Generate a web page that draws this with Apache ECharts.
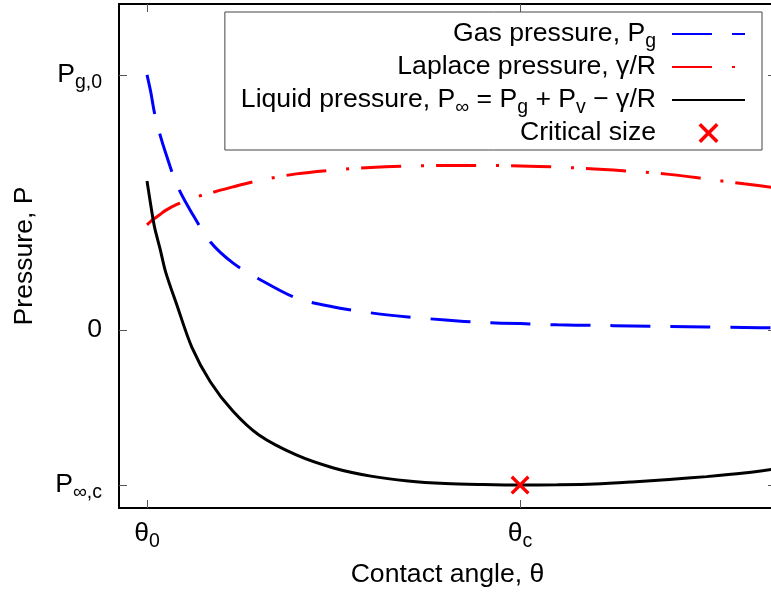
<!DOCTYPE html>
<html><head><meta charset="utf-8">
<script src="https://cdn.jsdelivr.net/npm/echarts@6/dist/echarts.min.js"></script>
<style>html,body{margin:0;padding:0;background:#fff}#c{width:771px;height:598px}</style>
</head><body><div id="c"></div>
<script>
// Contact angle (theta0 = 0, thetac = 1, arbitrary units)
const thetaValues = [0, 0.01, 0.02, 0.035, 0.05, 0.08, 0.12, 0.17, 0.23, 0.3, 0.4, 0.5, 0.6, 0.7, 0.8, 0.9, 1.0, 1.1, 1.2, 1.3, 1.4, 1.5, 1.6, 1.7];
// Pressure (0 = zero, 1 = Pg,0)
const gasPressure = [1.0, 0.933, 0.851, 0.765, 0.694, 0.569, 0.459, 0.345, 0.263, 0.200, 0.125, 0.090, 0.067, 0.051, 0.039, 0.029, 0.025, 0.020, 0.018, 0.016, 0.014, 0.012, 0.010, 0.008];
const laplacePressure = [0.412, 0.426, 0.437, 0.453, 0.469, 0.492, 0.516, 0.537, 0.561, 0.586, 0.612, 0.627, 0.637, 0.643, 0.645, 0.645, 0.643, 0.639, 0.631, 0.622, 0.610, 0.592, 0.573, 0.555];
const liquidPressure = [0.584, 0.490, 0.404, 0.318, 0.227, 0.098, -0.067, -0.204, -0.318, -0.412, -0.490, -0.541, -0.573, -0.592, -0.602, -0.606, -0.608, -0.607, -0.604, -0.596, -0.586, -0.575, -0.561, -0.541];
const criticalPoint = [[1.0, -0.608]];
const xTickValues = [0, 1];
const xTickLabels = ['θ{sub|0}', 'θ{sub|c}'];
const yTickValues = [-0.608, 0, 1];
const yTickLabels = ['P{sub|∞,c}', '0', 'P{sub|g,0}'];
const seriesNames = ['Gas pressure, Pg', 'Laplace pressure, γ/R', 'Liquid pressure, P∞ = Pg + Pv − γ/R', 'Critical size'];
const legendLabels = ['Gas pressure, P{sub|g}', 'Laplace pressure, γ/R', 'Liquid pressure, P{sub|∞} = P{sub|g} + P{sub|v} − γ/R', 'Critical size'];

const F = 'Liberation Sans, Arial, Helvetica, sans-serif';
const FS = 26.6;
const sub = {fontSize: 19.5, fontFamily: F, color: '#000', lineHeight: 16, padding: [16, 0, 0, 0]};
const zip = (ys) => thetaValues.map((x, i) => [x, ys[i]]);

const chart = echarts.init(document.getElementById('c'), null, {renderer: 'canvas'});
const tickStyle = {show: true, inside: true, length: 8, lineStyle: {color: '#555', width: 1}};
chart.setOption({
  animation: false,
  backgroundColor: '#fff',
  grid: {left: 119, top: 4, right: -5, bottom: 90, outerBoundsMode: 'none', containLabel: false},
  xAxis: [{
    type: 'value', min: -0.0751, max: 1.686, position: 'bottom',
    axisLine: {show: true, onZero: false, lineStyle: {color: '#000', width: 2}},
    axisTick: Object.assign({customValues: xTickValues}, tickStyle),
    axisLabel: {customValues: xTickValues, margin: 10, fontSize: FS, lineHeight: 32, fontFamily: F, color: '#000',
      formatter: v => xTickLabels[xTickValues.indexOf(v)] ?? '', rich: {sub}},
    splitLine: {show: false},
    name: 'Contact angle, θ', nameLocation: 'middle', nameGap: 51,
    nameTextStyle: {fontSize: FS, lineHeight: 32, fontFamily: F, color: '#000'}
  }, {
    type: 'value', min: -0.0751, max: 1.686, position: 'top',
    axisLine: {show: true, onZero: false, lineStyle: {color: '#000', width: 2}},
    axisTick: Object.assign({customValues: xTickValues}, tickStyle),
    axisLabel: {show: false}, splitLine: {show: false}
  }],
  yAxis: [{
    type: 'value', min: -0.698, max: 1.278, position: 'left',
    axisLine: {show: true, onZero: false, lineStyle: {color: '#000', width: 2}},
    axisTick: Object.assign({customValues: yTickValues}, tickStyle),
    axisLabel: {customValues: yTickValues, margin: 17, fontSize: FS, lineHeight: 32, fontFamily: F, color: '#000',
      formatter: v => yTickLabels[yTickValues.indexOf(v)] ?? '', rich: {sub}},
    splitLine: {show: false},
    name: 'Pressure, P', nameLocation: 'middle', nameGap: 78,
    nameTextStyle: {fontSize: FS, lineHeight: 32, fontFamily: F, color: '#000'}
  }, {
    type: 'value', min: -0.698, max: 1.278, position: 'right',
    axisLine: {show: true, onZero: false, lineStyle: {color: '#000', width: 2}},
    axisTick: Object.assign({customValues: yTickValues}, tickStyle),
    axisLabel: {show: false}, splitLine: {show: false}
  }],
  legend: {
    orient: 'vertical', align: 'right', right: 9, top: 12,
    itemWidth: 73, itemHeight: 20, itemGap: -1,
    padding: [4, 16, 1, 16],
    borderColor: '#444', borderWidth: 1, backgroundColor: '#fff',
    data: seriesNames.map((n, i) => i < 3 ? {name: n, itemStyle: {opacity: 0}} : {name: n}),
    formatter: name => legendLabels[seriesNames.indexOf(name)],
    textStyle: {fontSize: FS, lineHeight: 32, fontFamily: F, color: '#000', padding: [0, 11, 0, 0], rich: {sub}},
    selectedMode: false
  },
  series: [{
    name: seriesNames[0], type: 'line', data: zip(gasPressure), symbol: 'none', smooth: 0.3,
    lineStyle: {color: '#0000ff', width: 3, type: [40, 20]}, itemStyle: {color: '#0000ff'}, z: 3
  }, {
    name: seriesNames[1], type: 'line', data: zip(laplacePressure), symbol: 'none', smooth: 0.3,
    lineStyle: {color: '#ff0000', width: 3, type: [40, 20, 3, 12]}, itemStyle: {color: '#ff0000'}, z: 2
  }, {
    name: seriesNames[2], type: 'line', data: zip(liquidPressure), symbol: 'none', smooth: 0.3,
    lineStyle: {color: '#000', width: 3}, itemStyle: {color: '#000'}, z: 4
  }, {
    name: seriesNames[3], type: 'scatter', data: criticalPoint,
    symbol: 'path://M0,2 L2,0 L8,6 L14,0 L16,2 L10,8 L16,14 L14,16 L8,10 L2,16 L0,14 L6,8 Z',
    symbolSize: 19, symbolKeepAspect: true, itemStyle: {color: '#ff0000', opacity: 1}, z: 5
  }]
});
</script>
</body></html>
